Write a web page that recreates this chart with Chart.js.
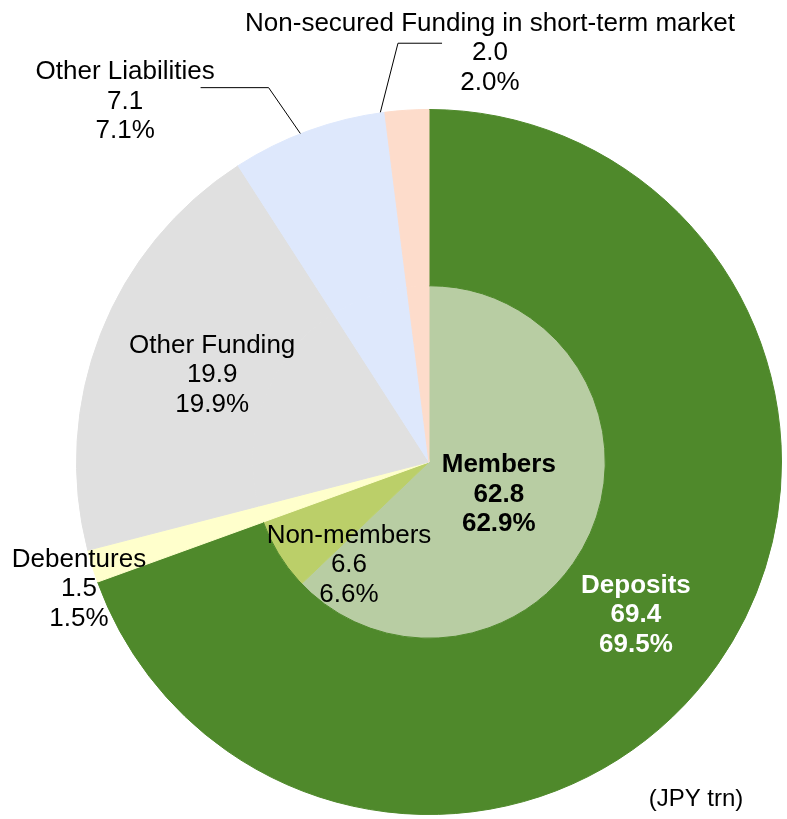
<!DOCTYPE html>
<html>
<head>
<meta charset="utf-8">
<script src="https://cdn.jsdelivr.net/npm/chart.js@4.4.1/dist/chart.umd.min.js"></script>
<style>
  html, body { margin: 0; padding: 0; background: #fff; }
  #wrap { width: 787px; height: 819px; position: relative; }
</style>
</head>
<body>
<div id="wrap"><canvas id="chart-funding"></canvas></div>
<script>
// Funding breakdown (JPY trn)
const outerLabels = ['Deposits', 'Debentures', 'Other Funding', 'Other Liabilities', 'Non-secured Funding in short-term market'];
const outerValues = [69.4, 1.5, 19.9, 7.1, 2.0];
const outerShares = ['69.5%', '1.5%', '19.9%', '7.1%', '2.0%'];
const innerLabels = ['Members', 'Non-members'];
const innerValues = [62.8, 6.6];
const innerShares = ['62.9%', '6.6%'];

const outerColors = ['#4f892b', '#ffffcc', '#e0e0e0', '#dee8fc', '#fddccb'];
const innerColors = ['#b8cda3', '#bbcf69'];

// label placement, as fractions of the pie radius from its centre
const labelSpots = {
  'Deposits': { fx: 0.587, fy: 0.434, color: '#fff', bold: true },
  'Debentures': { fx: -0.993, fy: 0.360 },
  'Other Funding': { fx: -0.615, fy: -0.247 },
  'Other Liabilities': { fx: -0.862, fy: -1.023,
    leader: [[-0.365, -0.932], [-0.455, -1.062], [-0.648, -1.062]] },
  'Non-secured Funding in short-term market': { fx: 0.173, fy: -1.160,
    leader: [[-0.138, -0.992], [-0.088, -1.188], [0.037, -1.188]] },
  'Members': { fx: 0.198, fy: 0.092, bold: true },
  'Non-members': { fx: -0.227, fy: 0.292 }
};

const FONT = '"Liberation Sans", Arial, sans-serif';

const labelPlugin = {
  id: 'pieLabels',
  afterDraw(chart) {
    const arc = chart.getDatasetMeta(0).data[0];
    if (!arc) return;
    const cx = arc.x, cy = arc.y, R = arc.outerRadius;
    const ctx = chart.ctx;
    ctx.save();

    const entries = [];
    outerLabels.forEach((name, i) => entries.push([name, outerValues[i], outerShares[i]]));
    innerLabels.forEach((name, i) => entries.push([name, innerValues[i], innerShares[i]]));

    entries.forEach(([name, value, share]) => {
      const spot = labelSpots[name];
      if (!spot) return;
      if (spot.leader) {
        ctx.beginPath();
        ctx.strokeStyle = '#000';
        ctx.lineWidth = 1;
        spot.leader.forEach(([lx, ly], k) => {
          const px = cx + lx * R, py = cy + ly * R;
          if (k === 0) ctx.moveTo(px, py); else ctx.lineTo(px, py);
        });
        ctx.stroke();
      }
      const x = cx + spot.fx * R;
      const y = cy + spot.fy * R;
      ctx.fillStyle = spot.color || '#000';
      ctx.font = (spot.bold ? 'bold ' : '') + '26px ' + FONT;
      ctx.textAlign = 'center';
      ctx.textBaseline = 'middle';
      const lh = 29.5;
      ctx.fillText(name, x, y - lh);
      ctx.fillText(value.toFixed(1), x, y);
      ctx.fillText(share, x, y + lh);
    });

    // unit note, bottom right
    ctx.fillStyle = '#000';
    ctx.font = '24px ' + FONT;
    ctx.textAlign = 'center';
    ctx.textBaseline = 'middle';
    ctx.fillText('(JPY trn)', 696, 799);
    ctx.restore();
  }
};

new Chart(document.getElementById('chart-funding'), {
  type: 'pie',
  data: {
    labels: innerLabels.concat(outerLabels.slice(1)),
    datasets: [
      {
        label: 'Funding',
        data: outerValues,
        backgroundColor: outerColors,
        borderColor: outerColors,
        borderWidth: 1
      },
      {
        label: 'Deposits breakdown',
        data: innerValues.concat(outerValues.slice(1)),
        backgroundColor: innerColors.concat(outerColors.slice(1)),
        borderColor: innerColors.concat(outerColors.slice(1)),
        borderWidth: 1
      }
    ]
  },
  options: {
    responsive: true,
    maintainAspectRatio: false,
    animation: false,
    layout: { padding: { left: 76, right: 5, top: 109, bottom: 4 } },
    plugins: {
      legend: { display: false },
      tooltip: { enabled: false }
    }
  },
  plugins: [labelPlugin]
});
</script>
</body>
</html>
